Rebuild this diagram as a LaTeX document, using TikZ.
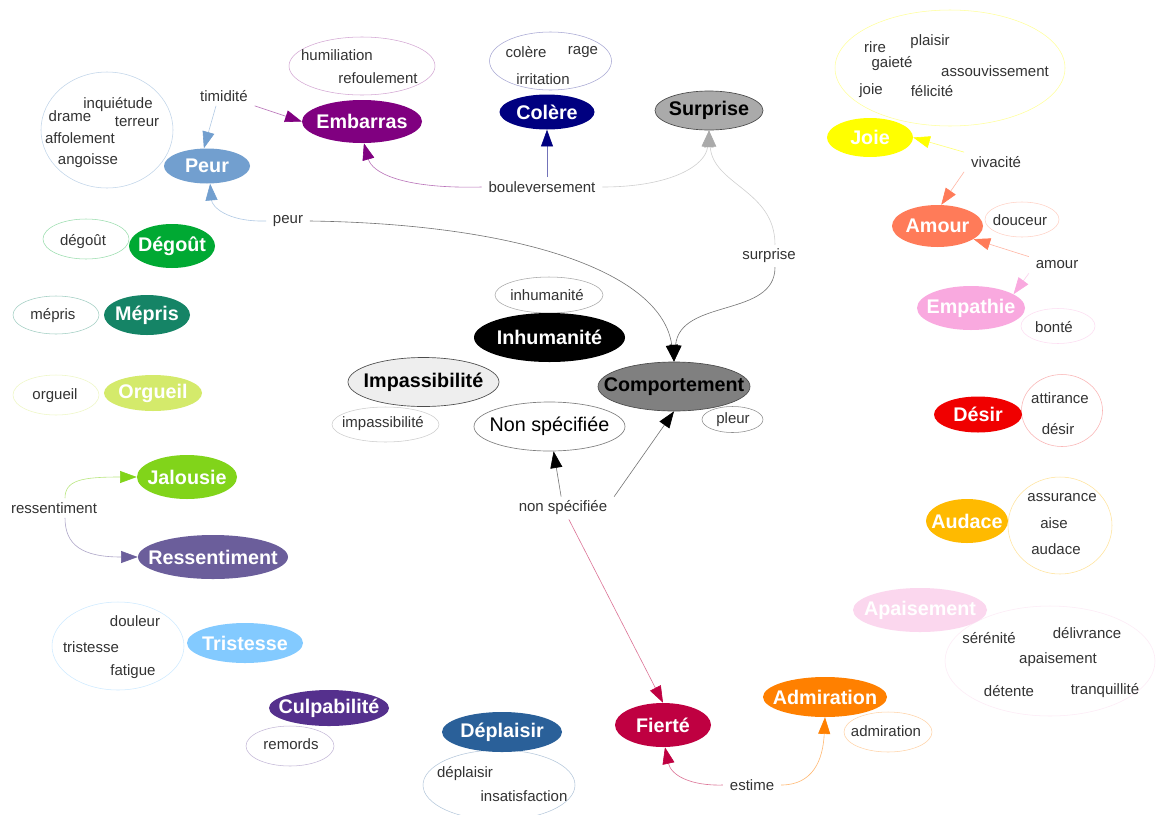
\documentclass[tikz,border=0pt]{standalone}
\usepackage{fontspec}
\setmainfont{Liberation Sans}
\usetikzlibrary{shapes.geometric,arrows.meta,calc}
\newcommand{\zb}[1]{\makebox[0pt]{#1}}
\definecolor{txt}{HTML}{333333}
\definecolor{cPeur}{HTML}{729FCF}
\definecolor{cEmb}{HTML}{800080}
\definecolor{cCol}{HTML}{000080}
\definecolor{cSur}{HTML}{AAAAAA}
\definecolor{cJoie}{HTML}{FFFF00}
\definecolor{cAmour}{HTML}{FF7B59}
\definecolor{cEmp}{HTML}{F9A9DF}
\definecolor{cDesir}{HTML}{F00000}
\definecolor{cAud}{HTML}{FFBA00}
\definecolor{cApa}{HTML}{FBD7EE}
\definecolor{cAdm}{HTML}{FF8000}
\definecolor{cFie}{HTML}{BF0041}
\definecolor{cDep}{HTML}{2A6099}
\definecolor{cCul}{HTML}{55308D}
\definecolor{cTri}{HTML}{83CAFF}
\definecolor{cRes}{HTML}{6B5E9B}
\definecolor{cJal}{HTML}{81D41A}
\definecolor{cOrg}{HTML}{D4EA6B}
\definecolor{cMep}{HTML}{158466}
\definecolor{cDeg}{HTML}{00A933}
\definecolor{cImp}{HTML}{EEEEEE}
\definecolor{cCom}{HTML}{808080}
\begin{document}
\begin{tikzpicture}[x=0.75pt,y=-0.75pt,
  mn/.style={ellipse, inner sep=0pt, font=\fontsize{14.8}{17}\selectfont\bfseries, text=white},
  sz/.style 2 args={minimum width=#1*1.5pt, minimum height=#2*1.5pt},
  sat/.style={ellipse, inner sep=0pt, line width=0.4pt, draw=#1},
  wd/.style={font=\fontsize{11.25}{13}\selectfont, text=txt, inner sep=0pt},
  lb/.style={font=\fontsize{11.25}{13}\selectfont, text=txt, inner xsep=5pt, inner ysep=3pt},
  ed/.style={line width=0.45pt, draw=#1!55, -{Triangle[length=12.5pt,width=9pt,color=#1]}}
]
\useasboundingbox (0,0) rectangle (1156,814);
\fill[white] (0,0) rectangle (1156,814);

% ---- satellite ellipses
\node[sat=cPeur!45, sz={66}{58}] (sPeur) at (107,130) {};
\node[wd] (w1) at (118,105) {inquiétude};
\node[wd] (w2) at (70,116) {drame};
\node[wd] (w3) at (137,122) {terreur};
\node[wd] (w4) at (80,138) {affolement};
\node[wd] (w5) at (88,161) {angoisse};

\node[sat=cEmb!35, sz={73}{29}] (sEmb) at (362,66) {};
\node[wd] (w6) at (337,55) {humiliation};
\node[wd] (w7) at (378,78) {refoulement};

\node[sat=cCol!35, sz={61}{29}] (sCol) at (550.5,61) {};
\node[wd] (w8) at (526,52) {colère};
\node[wd] (w9) at (583,52) {rage};
\node[wd] (w10) at (543,79) {irritation};

\node[sat=cJoie!40, sz={115}{58}] (sJoie) at (950,68) {};
\node[wd] (w11) at (875,47) {rire};
\node[wd] (w12) at (930,42) {plaisir};
\node[wd] (w13) at (892,64) {gaieté};
\node[wd] (w14) at (995,71) {assouvissement};
\node[wd] (w15) at (871,91) {joie};
\node[wd] (w16) at (932,91) {félicité};

\node[sat=cAmour!35, sz={37}{17.5}] (sAmour) at (1022,219.5) {};
\node[wd] (w17) at (1020,220) {douceur};
\node[sat=cEmp!40, sz={37}{17.5}] (sEmp) at (1058,326) {};
\node[wd] (w18) at (1054,327) {bonté};

\node[sat=cDesir!30, sz={40.5}{36}] (sDesir) at (1062,410.5) {};
\node[wd] (w19) at (1060,398) {attirance};
\node[wd] (w20) at (1058,429) {désir};

\node[sat=cAud!40, sz={52}{48.5}] (sAud) at (1060,525.5) {};
\node[wd] (w21) at (1062,498) {assurance};
\node[wd] (w22) at (1054,523) {aise};
\node[wd] (w23) at (1056,549) {audace};

\node[sat=cApa!50, sz={105}{55}] (sApa) at (1050,661) {};
\node[wd] (w24) at (989,638) {sérénité};
\node[wd] (w25) at (1087,633) {délivrance};
\node[wd] (w26) at (1058,660) {apaisement};
\node[wd] (w27) at (1009,691) {détente};
\node[wd] (w28) at (1105,691) {tranquillité};

\node[sat=cAdm!35, sz={44}{20}] (sAdm) at (888,732) {};
\node[wd] (w29) at (886,731) {admiration};

\node[sat=cDep!35, sz={76}{35}] (sDep) at (499,785) {};
\node[wd] (w30) at (465,774) {déplaisir};
\node[wd] (w31) at (524,796) {insatisfaction};

\node[sat=cCul!35, sz={44}{20}] (sCul) at (290,746) {};
\node[wd] (w32) at (291,744) {remords};

\node[sat=cTri!40, sz={66}{44}] (sTri) at (118,646) {};
\node[wd] (w33) at (135,621) {douleur};
\node[wd] (w34) at (91,647) {tristesse};
\node[wd] (w35) at (133,672) {fatigue};

\node[sat=cDeg!40, sz={43}{20}] (sDeg) at (86,239) {};
\node[wd] (w36) at (83,242) {dégoût};
\node[sat=cMep!40, sz={43}{19}] (sMep) at (56,315) {};
\node[wd] (w37) at (53,316) {mépris};
\node[sat=cOrg!40, sz={43}{20}] (sOrg) at (56,395) {};
\node[wd] (w38) at (55,396) {orgueil};

\node[sat=black!35, sz={54}{18}] (sInh) at (549,295) {};
\node[wd] (w39) at (547,295) {inhumanité};
\node[sat=black!20, sz={53.5}{17.5}] (sImp) at (385.5,424.5) {};
\node[wd] (w40) at (383,424) {impassibilité};
\node[sat=black!45, sz={30.5}{13}] (sCom) at (732.5,419.5) {};
\node[wd] (w41) at (733,420) {pleur};

% ---- main nodes
\node[mn,fill=cPeur,sz={43}{17.5}] (Peur) at (207,166) {\zb{Peur}};
\node[mn,fill=cEmb,sz={60}{21.5}] (Emb) at (362,121.5) {\zb{Embarras}};
\node[mn,fill=cCol,sz={47.5}{17.5}] (Col) at (547,112) {\zb{Colère}};
\node[mn,fill=cSur,draw=black!70,line width=0.5pt,text=black,sz={54}{19.5}] (Sur) at (709,110.5) {\zb{Surprise}};
\node[mn,fill=cJoie,sz={43}{19.5}] (Joie) at (870,137.5) {\zb{Joie}};
\node[mn,fill=cAmour,sz={45.5}{21}] (Amour) at (937.5,226) {\zb{Amour}};
\node[mn,fill=cEmp,sz={54}{22}] (Emp) at (971,308) {\zb{Empathie}};
\node[mn,fill=cDesir,sz={44}{18}] (Desir) at (978,414.5) {\zb{Désir}};
\node[mn,fill=cAud,sz={41}{22}] (Aud) at (967,521) {\zb{Audace}};
\node[mn,fill=cApa,sz={67}{22}] (Apa) at (920,610) {\zb{Apaisement}};
\node[mn,fill=cAdm,sz={62}{20}] (Adm) at (825,697) {\zb{Admiration}};
\node[mn,fill=cFie,sz={48}{22}] (Fie) at (663,725) {\zb{Fierté}};
\node[mn,fill=cDep,sz={60}{20}] (Dep) at (502,732) {\zb{Déplaisir}};
\node[mn,fill=cCul,sz={60}{18}] (Cul) at (329,708) {\zb{Culpabilité}};
\node[mn,fill=cTri,sz={58}{20}] (Tri) at (245,643) {\zb{Tristesse}};
\node[mn,fill=cRes,sz={75}{22}] (Res) at (213,557) {\zb{Ressentiment}};
\node[mn,fill=cJal,sz={50}{22}] (Jal) at (187,477) {\zb{Jalousie}};
\node[mn,fill=cOrg,sz={49}{18}] (Org) at (153,393) {\zb{Orgueil}};
\node[mn,fill=cMep,sz={43}{20}] (Mep) at (147,315) {\zb{Mépris}};
\node[mn,fill=cDeg,sz={43}{22}] (Deg) at (172,246) {\zb{Dégoût}};
\node[mn,fill=black,sz={75.5}{24.5}] (Inh) at (549.5,337.5) {\zb{Inhumanité}};
\node[mn,fill=cImp,draw=black!70,line width=0.5pt,text=black,sz={75.5}{24.5}] (Imp) at (423.5,382) {\zb{Impassibilité}};
\node[mn,fill=cCom,draw=black!70,line width=0.5pt,text=black,sz={76}{24.5}] (Com) at (674,386.5) {\zb{Comportement}};
\node[mn,fill=white,draw=black!50,line width=0.5pt,text=black,font=\fontsize{14.8}{17}\selectfont,sz={75.5}{24.5}] (NS) at (549.5,426.5) {\zb{Non spécifiée}};

% ---- edge labels
\node[lb] (lTim) at (224,96) {timidité};
\node[lb] (lBou) at (542,187) {bouleversement};
\node[lb] (lPeur) at (288,221) {peur};
\node[lb] (lSur) at (769,256) {surprise};
\node[lb] (lNS) at (563,508) {non spécifiée};
\node[lb] (lViv) at (996,162) {vivacité};
\node[lb] (lAm) at (1057,265) {amour};
\node[lb] (lRes) at (54,508) {ressentiment};
\node[lb] (lEst) at (752,785) {estime};

% ---- connectors
\draw[ed=cPeur] ($(lTim.south)+(-8,0)$) -- (Peur.100);
\draw[ed=cEmb] (lTim.south east) -- (Emb.west);
\draw[ed=cEmb] (lBou.west) .. controls (400,189) and (372,172) .. (Emb.-85);
\draw[ed=cCol] (lBou.north -| Col.south) -- (Col.south);
\draw[ed=cSur] (lBou.east) .. controls (672,187) and (706,165) .. (Sur.south);
\draw[ed=cPeur] (lPeur.west) .. controls (226,222) and (212,206) .. (Peur.-80);
\draw[ed=black] (lPeur.east) .. controls (520,224) and (662,272) .. (Com.north);
\draw[ed=cSur] ($(lSur.north)+(6,0)$) .. controls (775,190) and (713,185) .. (Sur.south);
\draw[ed=black] ($(lSur.south)+(6,0)$) .. controls (775,318) and (680,298) .. (Com.north);
\draw[ed=black] (lNS) -- (NS);
\draw[ed=black] (lNS.north east) -- (Com.south);
\draw[ed=cFie] (lNS) -- (Fie.north);
\draw[ed=cJoie] (lViv.north west) -- (Joie.east);
\draw[ed=cAmour] (lViv.south west) -- (Amour.80);
\draw[ed=cAmour] (lAm.north west) -- (Amour.-20);
\draw[ed=cEmp] (lAm.south west) -- (Emp.18);
\draw[ed=cJal] ($(lRes.north)+(11,0)$) .. controls (65,480) and (82,477) .. (Jal.west);
\draw[ed=cRes] ($(lRes.south)+(11,0)$) .. controls (65,545) and (82,557) .. (Res.west);
\draw[ed=cFie] (lEst.west) .. controls (690,786) and (671,775) .. (Fie.-85);
\draw[ed=cAdm] (lEst.east) .. controls (813,785) and (823,760) .. (Adm.south);
\end{tikzpicture}
\end{document}
